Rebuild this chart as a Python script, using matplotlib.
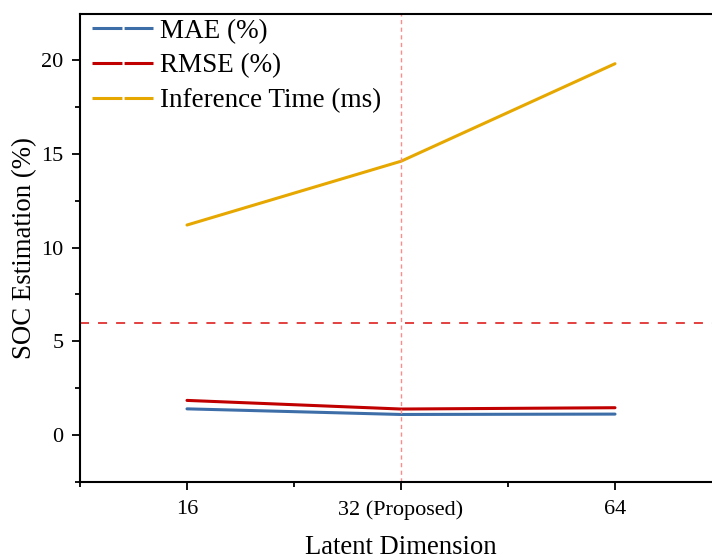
import matplotlib
matplotlib.use("Agg")
import matplotlib.pyplot as plt
from matplotlib.lines import Line2D
from matplotlib.ticker import MultipleLocator

categories = ["16", "32 (Proposed)", "64"]
mae = [1.40, 1.10, 1.12]
rmse = [1.85, 1.39, 1.46]
inference = [11.2, 14.6, 19.8]
threshold = 6.0

plt.rcParams['font.family'] = ['Liberation Serif', 'DejaVu Serif']

fig = plt.figure(figsize=(7.12, 5.6), dpi=100)
ax = fig.add_axes([80/712, 1-482/560, 642/712, 468/560])

x = [1, 2, 3]
c_mae = '#3E6EA8'
c_rmse = '#C00000'
c_inf = '#E6A800'

ax.plot(x, mae, color=c_mae, lw=2.2, solid_capstyle='round')
ax.plot(x, rmse, color=c_rmse, lw=2.2, solid_capstyle='round')
ax.plot(x, inference, color=c_inf, lw=2.2, solid_capstyle='round')

ax.axhline(threshold, color='#E03030', lw=1.3, ls=(0, (5, 5)))
ax.axvline(2, color='#FF8A8A', lw=1.0, ls=(0, (3, 2.5)))

ax.set_xlim(0.5, 3.5)
ax.set_ylim(-2.5, 22.45)
ax.set_xticks(x)
ax.set_xticklabels(categories)
ax.xaxis.set_minor_locator(MultipleLocator(0.5))
ax.yaxis.set_major_locator(MultipleLocator(5))
ax.yaxis.set_minor_locator(MultipleLocator(2.5))
ax.tick_params(axis='both', which='major', direction='out', length=6, width=1.3, labelsize=16, top=False, right=False)
ax.tick_params(axis='x', which='major', pad=7)
ax.tick_params(axis='y', which='major', pad=6)
ax.tick_params(axis='both', which='minor', direction='out', length=3.5, width=1.3, top=False, right=False)
for s in ax.spines.values():
    s.set_linewidth(1.5)

ax.set_xlabel('Latent Dimension', fontsize=19.2, labelpad=11)
ax.set_ylabel('SOC Estimation (%)', fontsize=19.3, labelpad=3)

handles = [Line2D([], [], color=c, lw=2.2, ls=(0, (9.8, 0.7))) for c in (c_mae, c_rmse, c_inf)]
ax.legend(handles, ['MAE (%)', 'RMSE (%)', 'Inference Time (ms)'], loc='upper left',
          frameon=False, fontsize=19.5, handlelength=2.25, handletextpad=0.25,
          labelspacing=0.36, borderaxespad=0.1, borderpad=0.35, bbox_to_anchor=(0.0, 1.016))

fig.savefig('out.png', dpi=100)
